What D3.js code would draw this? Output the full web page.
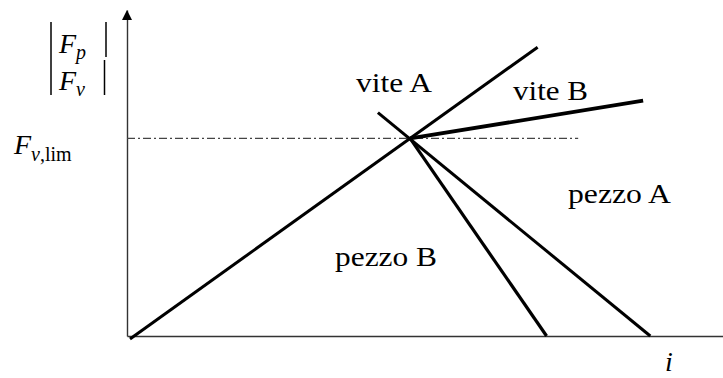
<!DOCTYPE html>
<html>
<head>
<meta charset="utf-8">
<script src="https://cdn.jsdelivr.net/npm/d3@7"></script>
<style>
  html, body { margin: 0; padding: 0; background: #fff; }
  svg { display: block; }
  text { font-family: "Liberation Serif", "Times New Roman", serif; fill: #000; }
</style>
</head>
<body>
<svg id="chart" width="723" height="378"></svg>
<script>
// Axis domains (i on the horizontal axis, |F| on the vertical axis)
const iDomain = [0, 10];
const fDomain = [0, 10];

// Characteristic lines: name, i at both ends, |F| at both ends
const lineNames = ["vite A", "vite B", "pezzo A", "pezzo B"];
const lineI = [[0.05, 6.89], [4.75, 8.66], [4.21, 8.78], [4.75, 7.04]];
const lineF = [[-0.09, 8.86], [6.06, 7.22], [6.85, 0], [6.06, 0]];

// Limit force level of the screw
const fLim = 6.06;
const fLimExtent = [0, 7.57];

const svg = d3.select("#chart");
const x = d3.scaleLinear().domain(iDomain).range([127, 723]);
const y = d3.scaleLinear().domain(fDomain).range([336, 10]);

// Axes without ticks
svg.append("g").attr("transform", `translate(0,${y(0)})`)
  .call(d3.axisBottom(x).tickValues([]).tickSizeOuter(0));
svg.append("g").attr("transform", `translate(${x(0)},0)`)
  .call(d3.axisLeft(y).tickValues([]).tickSizeOuter(0));
svg.selectAll(".domain").attr("stroke", "#333").attr("stroke-width", 1.4);

// Arrow head on the vertical axis
const yTip = y(fDomain[1]);
svg.append("path")
  .attr("d", `M${x(0)},${yTip} L${x(0) - 5},${yTip + 10} L${x(0) + 5},${yTip + 10} Z`)
  .attr("fill", "#000");

// Dash-dot limit line
svg.append("line")
  .attr("x1", x(fLimExtent[0])).attr("x2", x(fLimExtent[1]))
  .attr("y1", y(fLim)).attr("y2", y(fLim))
  .attr("stroke", "#444").attr("stroke-width", 1.2)
  .attr("stroke-dasharray", "8,3,2,3");

// Characteristic lines
const widths = { "vite A": 3, "vite B": 3.8, "pezzo A": 3, "pezzo B": 3.2 };
svg.append("g").selectAll("line").data(lineNames).join("line")
  .attr("x1", (d, k) => x(lineI[k][0])).attr("y1", (d, k) => y(lineF[k][0]))
  .attr("x2", (d, k) => x(lineI[k][1])).attr("y2", (d, k) => y(lineF[k][1]))
  .attr("stroke", "#000")
  .attr("stroke-width", d => widths[d]);

// Line labels
const labelPos = {
  "vite A": [356, 92],
  "vite B": [513, 100],
  "pezzo A": [568, 203],
  "pezzo B": [335, 266]
};
const labelLen = { "vite A": 76, "vite B": 75, "pezzo A": 103, "pezzo B": 102 };
svg.append("g").selectAll("text").data(lineNames).join("text")
  .attr("x", d => labelPos[d][0]).attr("y", d => labelPos[d][1])
  .attr("font-size", 28)
  .attr("textLength", d => labelLen[d])
  .attr("lengthAdjust", "spacingAndGlyphs")
  .text(d => d);

// Horizontal axis title
svg.append("text").attr("x", 665).attr("y", 371)
  .attr("font-size", 28).attr("font-style", "italic").text("i");

// Vertical axis title: |F_p| over |F_v|
const yt = svg.append("g");
const t1 = yt.append("text").attr("x", 59).attr("y", 53).attr("font-size", 28);
t1.append("tspan").attr("font-style", "italic").text("F");
t1.append("tspan").attr("font-style", "italic").attr("font-size", 20).attr("dy", 6).text("p");
const t2 = yt.append("text").attr("x", 59).attr("y", 90).attr("font-size", 28);
t2.append("tspan").attr("font-style", "italic").text("F");
t2.append("tspan").attr("font-style", "italic").attr("font-size", 20).attr("dy", 6).text("v");
const bars = [[51, 22, 51, 95], [106, 22, 106, 57], [104.5, 60, 104.5, 95]];
yt.selectAll("line").data(bars).join("line")
  .attr("x1", d => d[0]).attr("y1", d => d[1])
  .attr("x2", d => d[2]).attr("y2", d => d[3])
  .attr("stroke", "#000").attr("stroke-width", 1.5);

// Limit force label F_{v,lim}
const tl = svg.append("text").attr("x", 14).attr("y", 154).attr("font-size", 28);
tl.append("tspan").attr("font-style", "italic").text("F");
tl.append("tspan").attr("font-size", 20).attr("dy", 7).attr("font-style", "italic").text("v");
tl.append("tspan").attr("font-size", 20).text(",lim");
</script>
</body>
</html>
